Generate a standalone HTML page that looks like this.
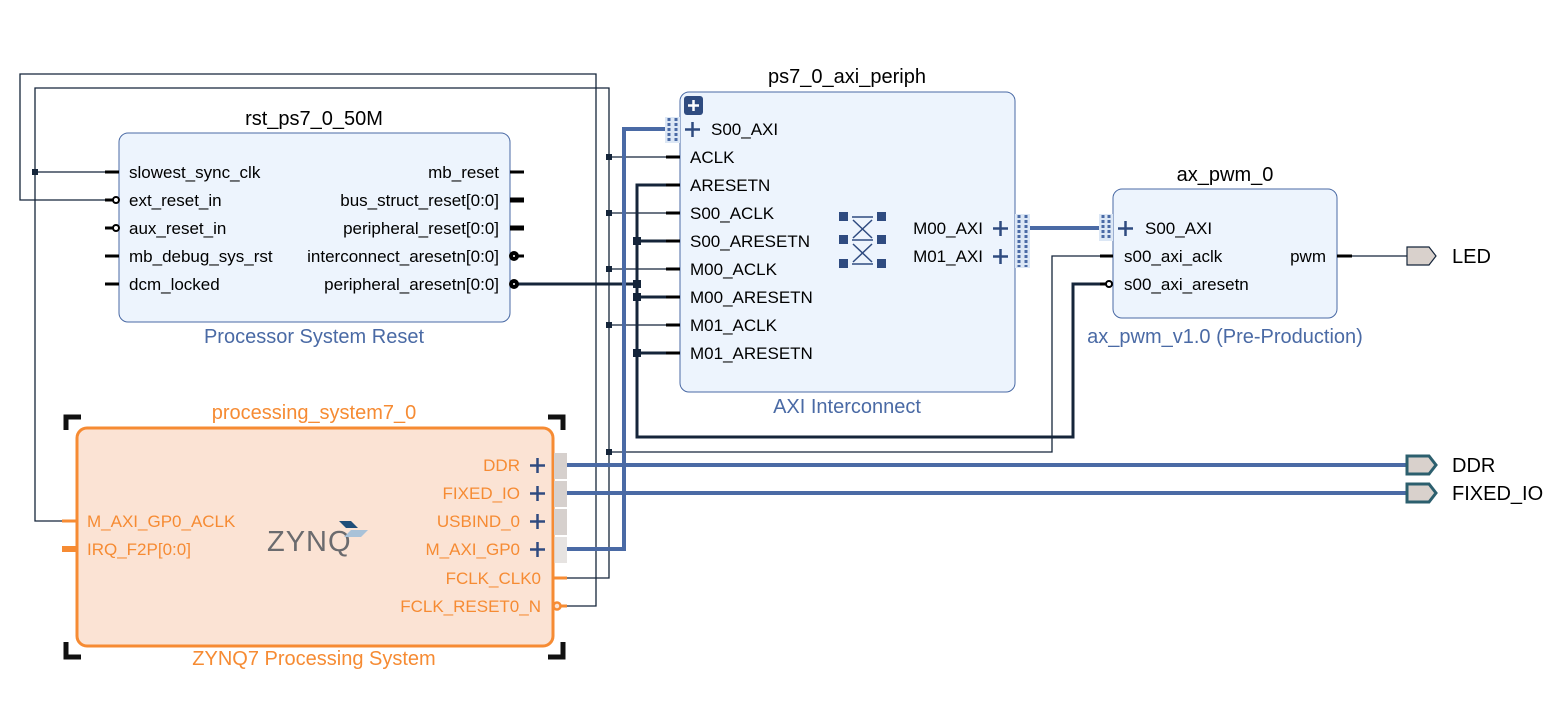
<!DOCTYPE html>
<html><head><meta charset="utf-8"><style>
html,body{margin:0;padding:0;background:#fff;}
svg{display:block;font-family:"Liberation Sans",sans-serif;}
.t{font-size:17px;fill:#000;}
.h{font-size:20px;fill:#000;}
.b{font-size:20px;fill:#4a6aa5;}
.o{font-size:17px;fill:#f68b33;}
</style></head><body>
<svg width="1565" height="701" viewBox="0 0 1565 701" xmlns="http://www.w3.org/2000/svg">
<g stroke="#15253a" stroke-width="1.3" fill="none">
<polyline points="567,606 596,606 596,74 20,74 20,200 112,200"/>
<polyline points="567,578 609,578 609,88 35,88 35,521 64,521"/>
<line x1="35" y1="172" x2="105" y2="172"/>
<line x1="609" y1="157" x2="666" y2="157"/>
<line x1="609" y1="213" x2="666" y2="213"/>
<line x1="609" y1="269" x2="666" y2="269"/>
<line x1="609" y1="325" x2="666" y2="325"/>
<polyline points="609,452 1052,452 1052,256 1100,256"/>
<line x1="1352" y1="256" x2="1407" y2="256"/>
</g>
<g fill="#15253a">
<rect x="32" y="169" width="6" height="6"/>
<rect x="606" y="154" width="6" height="6"/>
<rect x="606" y="210" width="6" height="6"/>
<rect x="606" y="266" width="6" height="6"/>
<rect x="606" y="322" width="6" height="6"/>
<rect x="606" y="449" width="6" height="6"/>
</g>
<g stroke="#15253a" stroke-width="3" fill="none">
<line x1="515" y1="284" x2="637" y2="284"/>
<polyline points="666,185 637,185 637,437 1073,437 1073,284 1106,284"/>
<line x1="637" y1="241" x2="666" y2="241"/>
<line x1="637" y1="297" x2="666" y2="297"/>
<line x1="637" y1="353" x2="666" y2="353"/>
</g>
<g fill="#15253a">
<rect x="633" y="237" width="8" height="8"/>
<rect x="633" y="280" width="8" height="8"/>
<rect x="633" y="293" width="8" height="8"/>
<rect x="633" y="349" width="8" height="8"/>
</g>
<g stroke="#4a6aa5" stroke-width="4" fill="none">
<polyline points="567,549 624,549 624,129 666,129"/>
<line x1="1030" y1="228" x2="1100" y2="228"/>
<line x1="567" y1="465" x2="1406" y2="465"/>
<line x1="567" y1="493" x2="1406" y2="493"/>
</g>

<text class="h" x="314" y="125" text-anchor="middle">rst_ps7_0_50M</text>
<rect x="119" y="133" width="391" height="189" rx="9" fill="#edf4fd" stroke="#4a6aa5" stroke-width="1"/>
<g stroke="#000" stroke-width="3">
<line x1="105" y1="172" x2="119" y2="172"/>
<line x1="105" y1="200" x2="113" y2="200"/>
<line x1="105" y1="228" x2="113" y2="228"/>
<line x1="105" y1="256" x2="119" y2="256"/>
<line x1="105" y1="284" x2="119" y2="284"/>
<line x1="510" y1="172" x2="524" y2="172"/>
</g>
<g stroke="#000" stroke-width="5">
<line x1="510" y1="200" x2="524" y2="200"/>
<line x1="510" y1="228" x2="524" y2="228"/>
</g>
<g fill="#fff" stroke="#000" stroke-width="2">
<circle cx="116" cy="200" r="3"/><circle cx="116" cy="228" r="3"/>
</g>
<g fill="#000"><circle cx="514" cy="256" r="5"/><circle cx="514" cy="284" r="5"/></g>
<line x1="514" y1="256" x2="524" y2="256" stroke="#000" stroke-width="3"/>
<g fill="#fff"><circle cx="514" cy="256" r="1"/><circle cx="514" cy="284" r="1"/></g>
<g class="t">
<text x="129" y="178">slowest_sync_clk</text>
<text x="129" y="206">ext_reset_in</text>
<text x="129" y="234">aux_reset_in</text>
<text x="129" y="262">mb_debug_sys_rst</text>
<text x="129" y="290">dcm_locked</text>
</g>
<g class="t" text-anchor="end">
<text x="499" y="178">mb_reset</text>
<text x="499" y="206">bus_struct_reset[0:0]</text>
<text x="499" y="234">peripheral_reset[0:0]</text>
<text x="499" y="262">interconnect_aresetn[0:0]</text>
<text x="499" y="290">peripheral_aresetn[0:0]</text>
</g>
<text class="b" x="314" y="343" text-anchor="middle">Processor System Reset</text>

<text class="h" x="847" y="83" text-anchor="middle">ps7_0_axi_periph</text>
<rect x="680" y="92" width="335" height="300" rx="9" fill="#edf4fd" stroke="#4a6aa5" stroke-width="1"/>
<rect x="684" y="96" width="19" height="19" rx="3" fill="#2f4b80"/>
<path d="M688 105.5h11M693.5 100v11" stroke="#fff" stroke-width="2.5"/>
<g stroke="#000" stroke-width="3">
<line x1="666" y1="157" x2="680" y2="157"/>
<line x1="666" y1="185" x2="680" y2="185"/>
<line x1="666" y1="213" x2="680" y2="213"/>
<line x1="666" y1="241" x2="680" y2="241"/>
<line x1="666" y1="269" x2="680" y2="269"/>
<line x1="666" y1="297" x2="680" y2="297"/>
<line x1="666" y1="325" x2="680" y2="325"/>
<line x1="666" y1="353" x2="680" y2="353"/>
</g>
<rect x="665" y="117" width="15" height="26" fill="#dce7f5"/>
<g stroke="#4a6aa5" stroke-width="3" stroke-dasharray="3,2"><line x1="669" y1="118" x2="669" y2="142"/><line x1="676" y1="118" x2="676" y2="142"/></g>
<path d="M685 129.5h15M692.5 122v15" stroke="#2f4b80" stroke-width="2.5"/>
<g class="t">
<text x="711" y="135">S00_AXI</text>
<text x="690" y="163">ACLK</text>
<text x="690" y="191">ARESETN</text>
<text x="690" y="219">S00_ACLK</text>
<text x="690" y="247">S00_ARESETN</text>
<text x="690" y="275">M00_ACLK</text>
<text x="690" y="303">M00_ARESETN</text>
<text x="690" y="331">M01_ACLK</text>
<text x="690" y="359">M01_ARESETN</text>
</g>
<g class="t" text-anchor="end"><text x="983" y="234">M00_AXI</text><text x="983" y="262">M01_AXI</text></g>
<path d="M993 228.5h15M1000.5 221v15M993 256.5h15M1000.5 249v15" stroke="#2f4b80" stroke-width="2.5"/>
<rect x="1015" y="214" width="15" height="54" fill="#dce7f5"/>
<g stroke="#4a6aa5" stroke-width="3" stroke-dasharray="3,2"><line x1="1019" y1="215" x2="1019" y2="267"/><line x1="1026" y1="215" x2="1026" y2="267"/></g>
<g fill="#2f4b80">
<rect x="839" y="212" width="9" height="9"/><rect x="877" y="212" width="9" height="9"/>
<rect x="839" y="235" width="9" height="9"/><rect x="877" y="235" width="9" height="9"/>
<rect x="839" y="259" width="9" height="9"/><rect x="877" y="259" width="9" height="9"/>
</g>
<g stroke="#2f4b80" stroke-width="1.5">
<line x1="852" y1="217" x2="873" y2="217"/><line x1="852" y1="240" x2="873" y2="240"/><line x1="852" y1="264" x2="873" y2="264"/>
<line x1="853" y1="220" x2="872" y2="238"/><line x1="872" y1="220" x2="853" y2="238"/>
<line x1="853" y1="244" x2="872" y2="262"/><line x1="872" y1="244" x2="853" y2="262"/>
</g>
<text class="b" x="847" y="413" text-anchor="middle">AXI Interconnect</text>

<text class="h" x="1225" y="181" text-anchor="middle">ax_pwm_0</text>
<rect x="1113" y="189" width="224" height="129" rx="9" fill="#edf4fd" stroke="#4a6aa5" stroke-width="1"/>
<rect x="1099" y="214" width="14" height="27" fill="#dce7f5"/>
<g stroke="#4a6aa5" stroke-width="3" stroke-dasharray="3,2"><line x1="1103" y1="215" x2="1103" y2="240"/><line x1="1109" y1="215" x2="1109" y2="240"/></g>
<path d="M1118 228.5h15M1125.5 221v15" stroke="#2f4b80" stroke-width="2.5"/>
<g stroke="#000" stroke-width="3"><line x1="1100" y1="256" x2="1113" y2="256"/><line x1="1100" y1="284" x2="1106" y2="284"/><line x1="1337" y1="256" x2="1352" y2="256"/></g>
<circle cx="1109" cy="284" r="3" fill="#fff" stroke="#000" stroke-width="2"/>
<g class="t"><text x="1145" y="234">S00_AXI</text><text x="1124" y="262">s00_axi_aclk</text><text x="1124" y="290">s00_axi_aresetn</text></g>
<text class="t" x="1326" y="262" text-anchor="end">pwm</text>
<text class="b" x="1225" y="343" text-anchor="middle">ax_pwm_v1.0 (Pre-Production)</text>

<polygon points="1407,247 1429,247 1436,256 1429,265 1407,265" fill="#d9d1cc" stroke="#15253a" stroke-width="1.2"/>
<text class="h" x="1452" y="263">LED</text>
<polygon points="1407,456 1429,456 1436,465 1429,474 1407,474" fill="#d9d1cc" stroke="#2c5f6e" stroke-width="3"/>
<text class="h" x="1452" y="472">DDR</text>
<polygon points="1407,484 1429,484 1436,493 1429,502 1407,502" fill="#d9d1cc" stroke="#2c5f6e" stroke-width="3"/>
<text class="h" x="1452" y="500">FIXED_IO</text>

<text class="o" x="314" y="419" text-anchor="middle" style="font-size:20px">processing_system7_0</text>
<g stroke="#111" stroke-width="5" fill="none">
<polyline points="66,430 66,417 81,417"/><polyline points="548,417 563,417 563,430"/>
<polyline points="66,642 66,657 81,657"/><polyline points="548,657 563,657 563,642"/>
</g>
<rect x="77" y="428" width="476" height="218" rx="10" fill="#fbe3d4" stroke="#f68b33" stroke-width="3"/>
<g stroke="#f68b33" stroke-width="3"><line x1="62" y1="521" x2="77" y2="521"/><line x1="554" y1="578" x2="567" y2="578"/><line x1="559" y1="606" x2="567" y2="606"/></g>
<line x1="62" y1="549" x2="77" y2="549" stroke="#f68b33" stroke-width="6"/>
<circle cx="557" cy="606" r="3.5" fill="#fbe3d4" stroke="#f68b33" stroke-width="2.5"/>
<g fill="#d6d0cd"><rect x="554" y="453" width="13" height="26"/><rect x="554" y="481" width="13" height="26"/><rect x="554" y="509" width="13" height="26"/><rect x="554" y="537" width="13" height="26" opacity="0.6"/></g>
<g class="o"><text x="87" y="527">M_AXI_GP0_ACLK</text><text x="87" y="555">IRQ_F2P[0:0]</text></g>
<g class="o" text-anchor="end">
<text x="520" y="471">DDR</text><text x="520" y="499">FIXED_IO</text><text x="520" y="527">USBIND_0</text><text x="520" y="555">M_AXI_GP0</text>
<text x="541" y="584">FCLK_CLK0</text><text x="541" y="612">FCLK_RESET0_N</text>
</g>
<path d="M530 465.5h15M537.5 458v15M530 493.5h15M537.5 486v15M530 521.5h15M537.5 514v15M530 549.5h15M537.5 542v15" stroke="#2f4b80" stroke-width="2.5"/>
<text x="267" y="551" style="font-size:29px;fill:#6b6b6e;letter-spacing:1px">ZYNQ</text>
<polygon points="339,521 351,521 358,528 346,528" fill="#1f4e79"/>
<polygon points="351,530 368,530 361,537 344,537" fill="#a9c2d8"/>
<text class="o" x="314" y="665" text-anchor="middle" style="font-size:20px">ZYNQ7 Processing System</text>
</svg>
</body></html>
